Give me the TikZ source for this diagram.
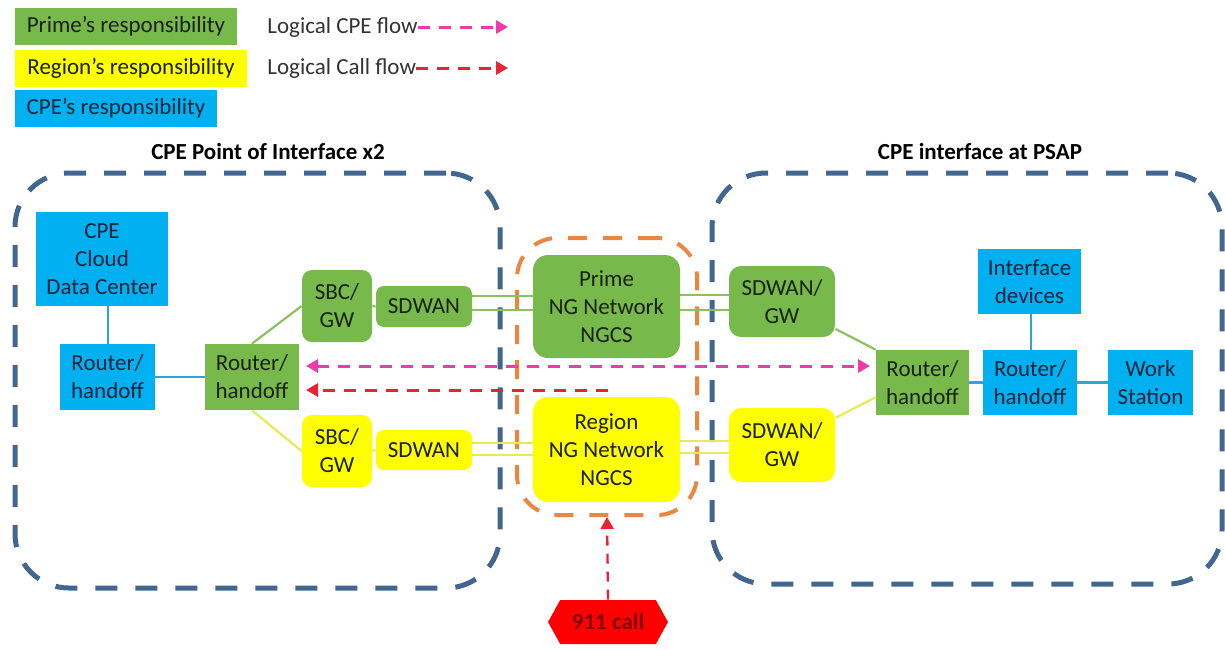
\documentclass[tikz,border=0pt]{standalone}
\usepackage{fontspec}
\setmainfont{Carlito}
\usetikzlibrary{arrows.meta,shapes.symbols,calc}
\definecolor{pgreen}{HTML}{77B94B}
\definecolor{ryellow}{HTML}{FFFF00}
\definecolor{cblue}{HTML}{00B0F0}
\definecolor{zoneblue}{HTML}{41668F}
\definecolor{zoneorange}{HTML}{EC8540}
\definecolor{cpemag}{HTML}{EB3CA8}
\definecolor{callred}{HTML}{E52632}
\definecolor{glink}{HTML}{8DC063}
\definecolor{ylink}{HTML}{E9E956}
\definecolor{blink}{HTML}{2CA6DA}
\definecolor{boxtext}{HTML}{1A2012}
\definecolor{bluetext}{HTML}{12233A}
\definecolor{legtext}{HTML}{333333}
\definecolor{darkred}{HTML}{800000}
\begin{document}
\begin{tikzpicture}[x=0.5pt,y=-0.5pt,
  every node/.style={font=\fontsize{11.5}{14}\selectfont, inner sep=0pt, align=center},
  gbox/.style={fill=pgreen, text=boxtext},
  ybox/.style={fill=ryellow, text=boxtext},
  bbox/.style={fill=cblue, text=bluetext},
  zone/.style={draw=zoneblue, line width=2.5pt, dash pattern=on 11pt off 9pt, rounded corners=27pt},
  ngzone/.style={draw=zoneorange, line width=2pt, dash pattern=on 9.5pt off 8pt, rounded corners=20pt},
  glk/.style={draw=glink, line width=1.1pt},
  ylk/.style={draw=ylink, line width=1.1pt},
  blk/.style={draw=blink, line width=1.1pt},
  cpeflow/.style={draw=cpemag, line width=1.5pt, dash pattern=on 6pt off 4.5pt, -{Triangle[length=6pt,width=6.5pt]}},
  callflow/.style={draw=callred, line width=1.5pt, dash pattern=on 6pt off 4.5pt, -{Triangle[length=6pt,width=6.5pt]}},
  legtxt/.style={text=legtext, anchor=west}
]
\useasboundingbox (0,0) rectangle (1225,649);

% legend
\node[gbox, minimum width=111pt, minimum height=18.5pt] (legP) at (126,26.5) {Prime’s responsibility};
\node[ybox, minimum width=116pt, minimum height=18.5pt] (legR) at (131,68.5) {Region’s responsibility};
\node[bbox, minimum width=101pt, minimum height=18.5pt] (legC) at (116,108.5) {CPE’s responsibility};
\node[legtxt] (lt1) at (267,27) {Logical CPE flow};
\node[legtxt] (lt2) at (267,68) {Logical Call flow};
\coordinate (la1) at (508,27);
\coordinate (la2) at (508,68);
\draw[cpeflow] (lt1.east) -- (la1);
\draw[callflow] (lt2.east) -- (la2);

% titles
\node[font=\fontsize{11.5}{14}\selectfont\bfseries] (t1) at (268,152) {CPE Point of Interface x2};
\node[font=\fontsize{11.5}{14}\selectfont\bfseries] (t2) at (980,152) {CPE interface at PSAP};

% zones
\node[zone, minimum width=242.5pt, minimum height=207.5pt] (zl) at (257.5,380.5) {};
\node[zone, minimum width=255pt, minimum height=205.5pt] (zr) at (967,378.5) {};
\node[ngzone, minimum width=90pt, minimum height=138.5pt] (zng) at (607,376.5) {};

% left side
\node[bbox, minimum width=66pt, minimum height=47pt] (cloud) at (102,259) {CPE\\Cloud\\Data Center};
\node[bbox, minimum width=47.5pt, minimum height=33pt] (rb1) at (107.5,377) {Router/\\handoff};
\node[gbox, minimum width=47pt, minimum height=33pt] (rg1) at (252,377) {Router/\\handoff};
\node[gbox, rounded corners=5pt, minimum width=35pt, minimum height=36pt] (sbcg) at (337,306) {SBC/\\GW};
\node[gbox, rounded corners=4pt, minimum width=48pt, minimum height=20.5pt] (sdg) at (424,306.5) {SDWAN};
\node[ybox, rounded corners=5pt, minimum width=35pt, minimum height=36pt] (sbcy) at (337,451) {SBC/\\GW};
\node[ybox, rounded corners=4pt, minimum width=48pt, minimum height=20pt] (sdy) at (424,450) {SDWAN};

% centre
\node[gbox, rounded corners=7.5pt, minimum width=73.5pt, minimum height=51.5pt] (prime) at (606.5,306.5) {Prime\\NG Network\\NGCS};
\node[ybox, rounded corners=7.5pt, minimum width=73.5pt, minimum height=52.5pt] (region) at (606.5,449.5) {Region\\NG Network\\NGCS};
\node[signal, signal to=west and east, signal pointer angle=122, fill=red, text=darkred, font=\fontsize{11.5}{14}\selectfont\bfseries, minimum width=60pt, minimum height=22pt] (call) at (608,622) {911 call};

% right side
\node[gbox, rounded corners=6pt, minimum width=53pt, minimum height=35.5pt] (sdgwg) at (782,301.5) {SDWAN/\\GW};
\node[ybox, rounded corners=6pt, minimum width=53pt, minimum height=37pt] (sdgwy) at (782,445) {SDWAN/\\GW};
\node[gbox, minimum width=46.5pt, minimum height=32.5pt] (rg2) at (922.5,382.5) {Router/\\handoff};
\node[bbox, minimum width=47pt, minimum height=32.5pt] (rb2) at (1030,382.5) {Router/\\handoff};
\node[bbox, minimum width=42.5pt, minimum height=32.5pt] (ws) at (1150.5,382.5) {Work\\Station};
\node[bbox, minimum width=51.5pt, minimum height=32.5pt] (intf) at (1029.5,281.5) {Interface\\devices};

% links left
\draw[blk] (rb1.north -| 108,0) -- (cloud.south -| 108,0);
\draw[blk] (rb1.east) -- (rg1.west);
\draw[glk] (rg1.north) -- (sbcg.west);
\draw[ylk] (rg1.south) -- (sbcy.west);
\draw[glk] (sbcg.east) -- (sdg.west);
\draw[ylk] (sbcy.east) -- (sdy.west);
\draw[glk] (sdg.east |- 0,296) -- (prime.west |- 0,296);
\draw[glk] (sdg.east |- 0,310) -- (prime.west |- 0,310);
\draw[ylk] (sdy.east |- 0,443) -- (region.west |- 0,443);
\draw[ylk] (sdy.east |- 0,455) -- (region.west |- 0,455);

% links right
\draw[glk] (prime.east |- 0,295) -- (sdgwg.west |- 0,295);
\draw[glk] (prime.east |- 0,310) -- (sdgwg.west |- 0,310);
\draw[ylk] (region.east |- 0,441) -- (sdgwy.west |- 0,441);
\draw[ylk] (region.east |- 0,453) -- (sdgwy.west |- 0,453);
\draw[glk] (sdgwg) -- (rg2.north west);
\draw[ylk] (sdgwy) -- ($(rg2.west)!0.45!(rg2.south west)$);
\draw[blk] (rg2.east) -- (rb2.west);
\draw[blk] (rb2.east) -- (ws.west);
\draw[blk] (intf.south -| 1031,0) -- (rb2.north -| 1031,0);

% flows
\coordinate (m1) at (306,366);
\coordinate (m2) at (870,366);
\draw[cpeflow, {Triangle[length=6pt,width=6.5pt]}-{Triangle[length=6pt,width=6.5pt]}] (m1) -- (m2);
\coordinate (r1) at (608,390);
\coordinate (r2) at (306,390);
\draw[callflow] (r1) -- (r2);
\draw[callflow, line width=1.2pt, dash pattern=on 5pt off 4pt] (call.north) -- (zng.south);
\end{tikzpicture}
\end{document}
